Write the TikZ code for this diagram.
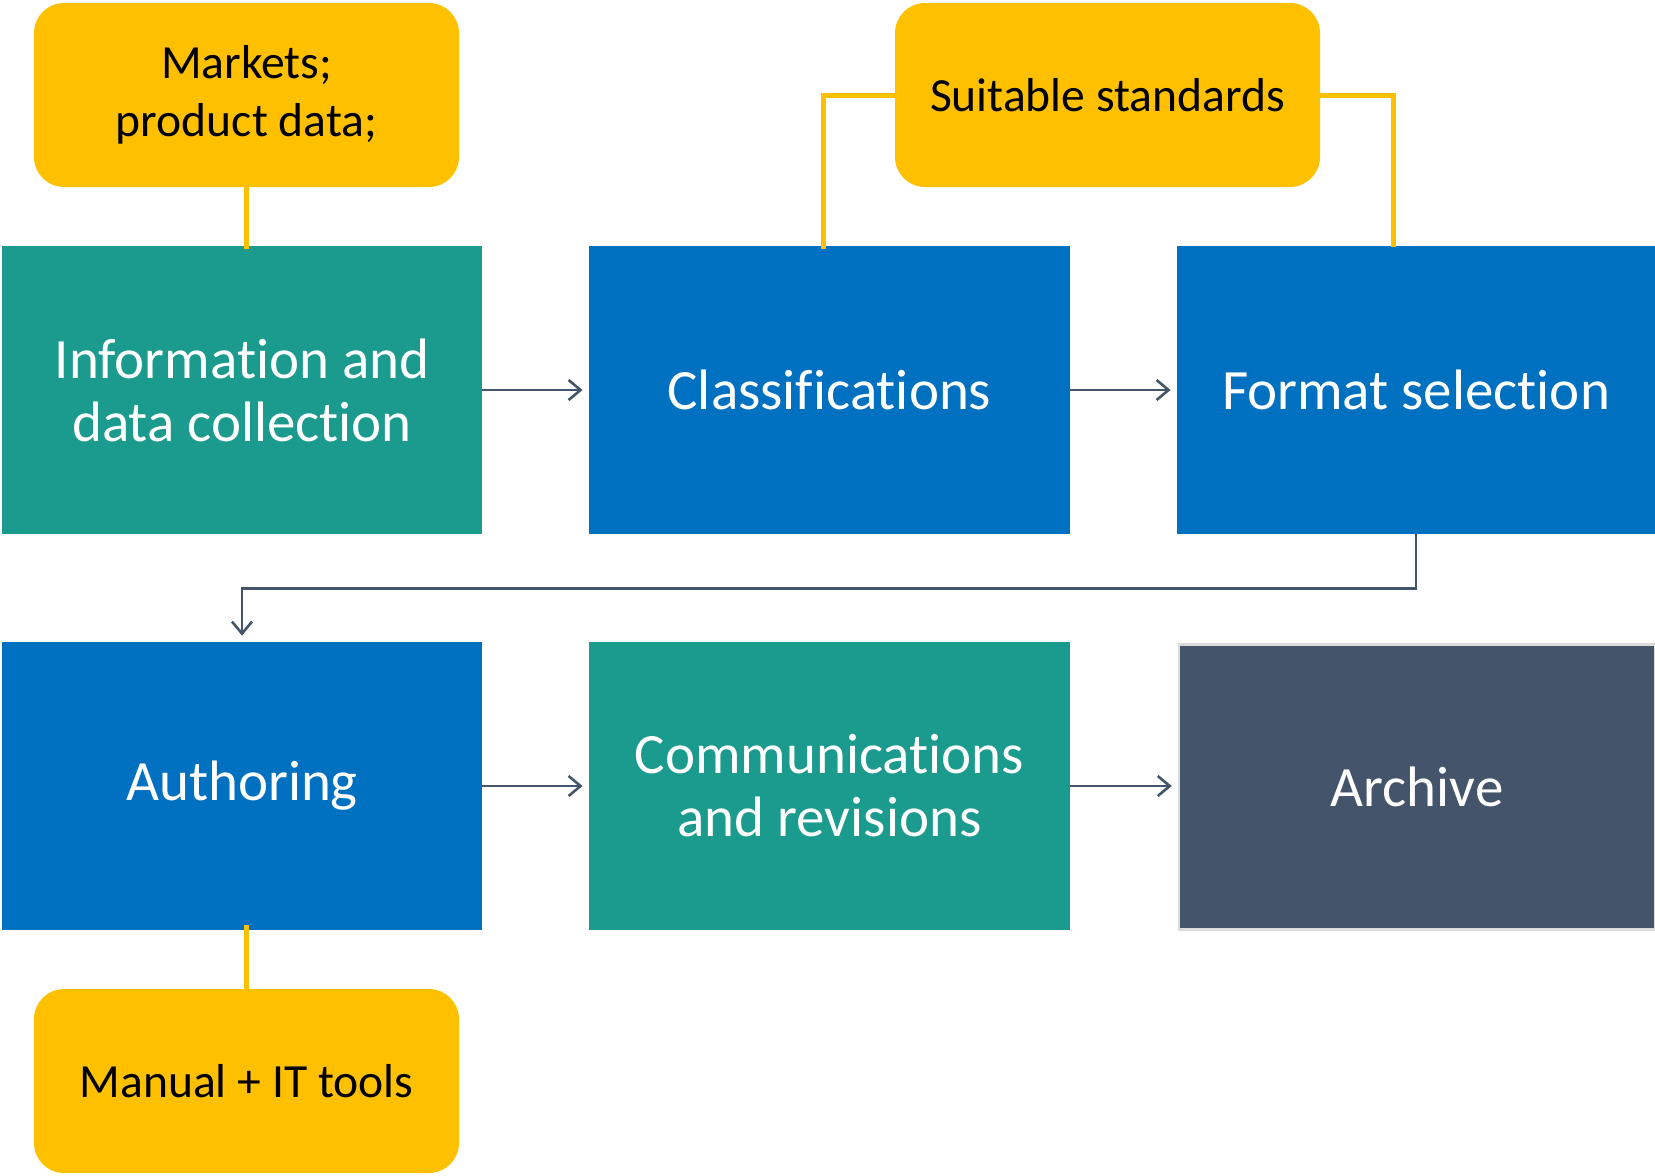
\documentclass[tikz,border=0pt]{standalone}
\usepackage{fontspec}
\setmainfont[Ligatures=NoCommon]{Carlito}
\usetikzlibrary{arrows.meta}
\definecolor{cteal}{HTML}{1A9B8E}
\definecolor{cblue}{HTML}{0070C0}
\definecolor{cyel}{HTML}{FFC000}
\definecolor{cslate}{HTML}{44546A}
\definecolor{cborder}{HTML}{DCDCDC}
\begin{document}
\begin{tikzpicture}[x=0.5pt,y=-0.5pt,
  bigbox/.style={font=\fontsize{28.5}{31.5}\selectfont, text=white, align=center,
    inner sep=0pt, minimum height=144pt, minimum width=240pt},
  note/.style={fill=cyel, rounded corners=15pt, minimum width=212.5pt, minimum height=92pt,
    font=\fontsize{23.8}{29}\selectfont, align=center, inner sep=0pt, text=black},
  flow/.style={draw=cslate, line width=1.3pt, -{Straight Barb[length=6pt,width=10pt]}, shorten >=3pt},
  link/.style={draw=cyel, line width=2.5pt}]
\useasboundingbox (0,0) rectangle (1655,1175);

\node[bigbox, fill=cteal] (info) at (242,390) {Information and\\data collection};
\node[bigbox, fill=cblue, minimum width=240.5pt] (cls) at (829.5,390) {Classifications};
\node[bigbox, fill=cblue, minimum width=239pt] (fmt) at (1416,390) {Format selection};
\node[bigbox, fill=cblue] (auth) at (242,786) {Authoring};
\node[bigbox, fill=cteal, minimum width=240.5pt] (comm) at (829.5,786) {Communications\\and revisions};
\node[bigbox, fill=cslate, draw=cborder, line width=1.2pt, minimum width=238pt, minimum height=142.5pt] (arch) at (1417,787) {Archive};

\node[note] (mk) at (246.5,95) {Markets;\\product data;};
\node[note] (ss) at (1107.5,95) {Suitable standards};
\node[note] (mt) at (246.5,1081) {Manual + IT tools};

\draw[link] (mk.south) -- ([yshift=-1.5pt]mk.south |- info.north);
\draw[link] (ss.west) -| ([xshift=-3.25pt,yshift=-1.5pt]cls.north);
\draw[link] (ss.east) -| ([xshift=-11.5pt,yshift=-0.5pt]fmt.north);
\draw[link] ([yshift=2.5pt]mt.north |- auth.south) -- (mt.north);

\draw[flow] (info.east) -- (cls.west);
\draw[flow] (cls.east) -- (fmt.west);
\draw[flow] (auth.east) -- (comm.west);
\draw[flow] (comm.east) -- (comm.east -| arch.west);
\draw[flow] (fmt.south) -- ++(0,54) -| (auth.north);
\end{tikzpicture}
\end{document}
